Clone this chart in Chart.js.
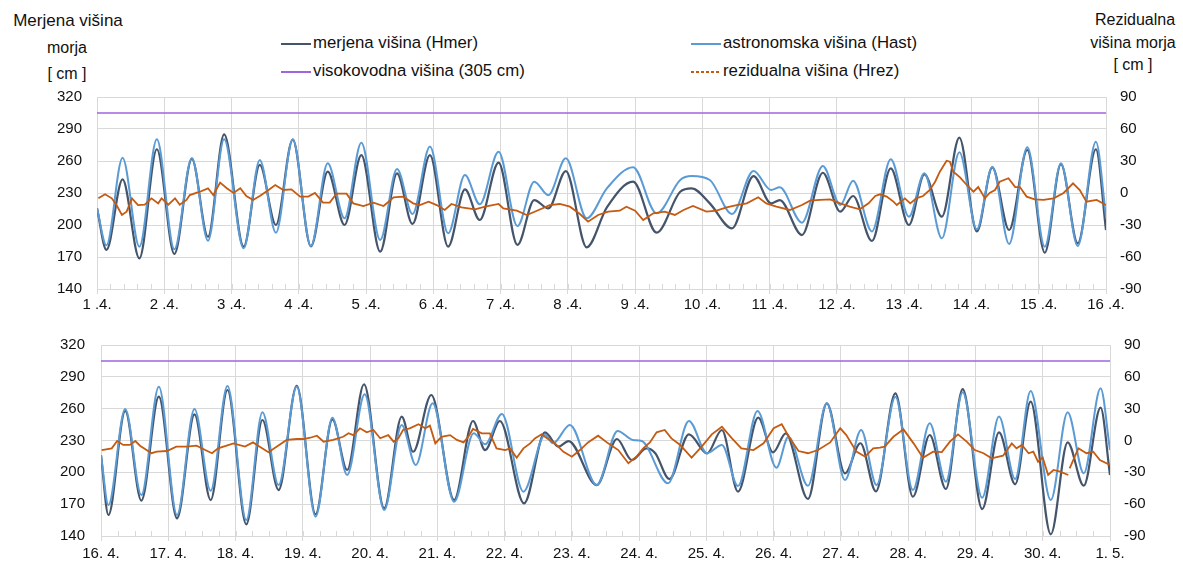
<!DOCTYPE html>
<html>
<head>
<meta charset="utf-8">
<script src="https://cdn.jsdelivr.net/npm/chart.js@4/dist/chart.umd.min.js"></script>
<style>
  body { margin: 0; background: #fff; width: 1183px; height: 563px; overflow: hidden; position: relative;
         font-family: "Liberation Sans", Arial, sans-serif; color: #111; }
  .t { position: absolute; font-size: 16px; line-height: 20px; white-space: nowrap; }
  .c { text-align: center; }
  .leg { position: absolute; font-size: 16.8px; line-height: 20px; white-space: nowrap; }
  .leg svg { vertical-align: middle; margin-right: 2px; }
  canvas { position: absolute; left: 0; }
</style>
</head>
<body>
<div class="t c" style="left:0;width:136px;top:11px;font-size:17px">Merjena višina</div>
<div class="t c" style="left:0;width:134px;top:38px">morja</div>
<div class="t c" style="left:0;width:134px;top:64px">[ cm ]</div>
<div class="t c" style="left:1080px;width:110px;top:10px">Rezidualna</div>
<div class="t c" style="left:1078px;width:110px;top:33px">višina morja</div>
<div class="t c" style="left:1078px;width:110px;top:55px">[ cm ]</div>

<div class="leg" style="left:281px;top:33px"><svg width="30" height="4"><line x1="0" y1="2" x2="30" y2="2" stroke="#44546a" stroke-width="2"/></svg>merjena višina (Hmer)</div>
<div class="leg" style="left:691px;top:33px"><svg width="30" height="4"><line x1="0" y1="2" x2="30" y2="2" stroke="#5b9bd5" stroke-width="2"/></svg>astronomska višina (Hast)</div>
<div class="leg" style="left:281px;top:61px"><svg width="30" height="4"><line x1="0" y1="2" x2="30" y2="2" stroke="#a064e0" stroke-width="2"/></svg>visokovodna višina (305 cm)</div>
<div class="leg" style="left:691px;top:61px"><svg width="30" height="4"><line x1="0" y1="2" x2="30" y2="2" stroke="#c55a11" stroke-width="2" stroke-dasharray="3,2"/></svg>rezidualna višina (Hrez)</div>

<canvas id="top" style="top:88px" width="1183" height="232"></canvas>
<canvas id="bot" style="top:336px" width="1183" height="227"></canvas>

<script>
// 1.4. - 16.4. (x = day of April)
const topDays = [1.00,1.14,1.38,1.63,1.89,2.15,2.41,2.65,2.89,3.18,3.42,3.66,3.91,4.18,4.43,4.68,4.93,5.21,5.46,5.69,5.95,6.22,6.47,6.69,6.97,7.25,7.50,7.71,7.97,8.28,8.58,8.97,9.32,9.67,9.84,10.11,10.44,10.76,11.02,11.15,11.48,11.79,12.05,12.24,12.52,12.80,13.07,13.30,13.56,13.82,14.08,14.31,14.56,14.83,15.09,15.33,15.58,15.85,16.00];
const hastTop = [215.6,181,263,179.7,280.3,177.2,262.8,185.3,280.3,178.1,261,192.8,280.3,180.3,257.8,206.3,277.2,186,252.5,210.3,273.5,192.2,246.9,219.4,268.7,199,240.6,228,262.5,206.3,234.4,254.1,210.9,242.2,245.9,242.2,210.3,250.6,232.8,235.3,202.2,255.3,218.8,241.5,194,261.6,207.8,248.4,187.5,268.1,196,254.7,182.2,272.8,179.7,257.8,180.3,278.1,207.8];
const hmerTop = [215.6,176.6,242.8,168.8,271,172.8,262,189,285,179.7,256.3,200,280,180,250,200,265.6,175,248.4,201,265.6,179.7,233.4,204.7,258.5,181.3,223.4,215.6,250.6,179.1,216.6,240.6,192.8,231.2,234.4,220.3,196.9,245.9,220.3,223.4,190.6,249,212.5,227.2,185,253.1,200,247.5,207.8,281.9,194,254,195.3,270.3,174,257,182.8,271,195.3];

const rezTopDays = [1.02,1.12,1.22,1.29,1.37,1.44,1.52,1.61,1.71,1.81,1.91,1.96,2.06,2.16,2.23,2.33,2.38,2.53,2.65,2.73,2.83,2.93,3.03,3.13,3.22,3.32,3.42,3.55,3.65,3.77,3.89,4.02,4.14,4.24,4.36,4.46,4.56,4.71,4.81,4.96,5.11,5.26,5.41,5.55,5.70,5.80,5.93,6.05,6.17,6.27,6.42,6.62,6.77,6.97,7.04,7.24,7.39,7.54,7.73,7.88,8.03,8.18,8.30,8.45,8.60,8.77,8.87,9.00,9.12,9.27,9.44,9.59,9.72,9.86,10.06,10.21,10.36,10.51,10.66,10.83,10.95,11.10,11.30,11.48,11.60,11.75,11.90,12.05,12.19,12.34,12.47,12.57,12.64,12.74,12.84,12.89,13.01,13.09,13.18,13.28,13.38,13.46,13.53,13.63,13.68,13.73,13.83,13.93,14.03,14.10,14.20,14.27,14.35,14.42,14.55,14.65,14.72,14.82,14.94,15.07,15.22,15.37,15.51,15.61,15.71,15.86,16.00];
const rezTop = [-5,-1.2,-5,-11.3,-20.6,-17.5,-5,-11.3,-11,-5,-9.7,-5,-11,-5,-11,-6.5,-1.9,1.2,4.4,-1.9,9.7,4.4,0,4.4,-2.8,-6.5,-2.8,2.8,7.5,2.8,3.4,-3.4,-3.4,0,-9,-9,-0.6,-0.6,-9.7,-12.2,-9,-12.2,-4,-3.4,-9.7,-11.3,-8.1,-11.3,-15.9,-10.3,-13.4,-15.3,-12.8,-10.3,-14.4,-16.6,-20.6,-16.6,-11.3,-10.3,-12.8,-19.7,-26.9,-20.6,-17.5,-16.6,-12.8,-16.6,-25.3,-19,-17.5,-20.6,-15.9,-12.2,-17.5,-16.6,-13.4,-11.3,-9.7,-4,-9.7,-12.8,-15.9,-11.3,-7.2,-6.5,-5.9,-9.7,-12.8,-15.3,-9.7,-2.8,-1.2,-3.4,-8.1,-11.3,-5,-9.7,-5,-2.8,2.8,10.6,20,30.3,29.4,20,14.7,7.5,1.2,5.6,-5,0,2.8,10.6,13.8,5.6,5.6,-3.4,-5.9,-6.5,-5,0,9.1,2.8,-8.1,-6.5,-11.3];

// 16.4. - 1.5. (x = day of April, 31 = 1.5.)
const hastBotDays = [16.00,16.11,16.36,16.60,16.86,17.13,17.39,17.63,17.88,18.16,18.40,18.64,18.91,19.19,19.44,19.66,19.92,20.21,20.47,20.68,20.93,21.25,21.54,21.71,21.96,22.28,22.60,22.72,22.97,23.37,23.68,23.91,24.04,24.43,24.74,25.01,25.23,25.47,25.76,26.04,26.22,26.51,26.79,27.06,27.30,27.53,27.81,28.07,28.32,28.56,28.81,29.10,29.35,29.59,29.82,30.12,30.37,30.61,30.86,31.00];
const hastBot = [216.3,169.2,259.7,178.6,280.7,159.8,259.7,182.7,281.4,155,256.6,188,280.7,158.2,251.5,197.5,273.5,164.5,244.6,206.9,265,172.3,236.8,226.4,255,181.8,235.2,227.4,244.6,188,239,230.5,229.5,189.7,248.4,218,225.8,187.1,257.8,204.4,233.6,187.4,265,192.8,239.9,188,271.3,183.3,246.2,191.2,275.4,176.1,252.5,193.7,276.6,173.9,256.6,199.1,279.2,221];
const hmerBotDays = [16.00,16.11,16.36,16.60,16.86,17.13,17.39,17.63,17.88,18.16,18.40,18.64,18.91,19.19,19.44,19.66,19.91,20.21,20.47,20.64,20.91,21.25,21.53,21.71,21.93,22.29,22.60,22.80,22.95,23.37,23.67,23.89,24.11,24.24,24.45,24.74,25.01,25.23,25.47,25.77,25.99,26.18,26.51,26.79,27.06,27.29,27.52,27.81,28.07,28.32,28.56,28.81,29.10,29.35,29.59,29.82,30.12,30.37,30.61,30.86,31.00];
const hmerBot = [216.3,159.8,257.8,173.3,271.3,156.7,254.7,173.9,277.6,151,249.3,183.3,281.6,160.5,250,202.2,283,166.1,252.5,219.4,272.9,173.9,248.4,221,248.4,170.8,237.7,224.2,229.5,188,231.4,211.6,222.6,218,193.7,235.8,217.9,239.9,181.8,251.5,218.8,236.8,174.9,265,199.1,227.4,182,274.5,177,235.2,184.3,278.5,165.4,237.7,188.7,266.6,141.6,228.3,187.4,260.9,197.5];

const rezBotDays = [16.01,16.16,16.24,16.33,16.43,16.51,16.58,16.70,16.75,16.83,16.98,17.12,17.27,17.42,17.55,17.65,17.74,17.97,18.14,18.26,18.36,18.49,18.61,18.76,18.91,19.01,19.11,19.21,19.31,19.45,19.60,19.68,19.75,19.85,19.95,20.05,20.15,20.27,20.35,20.42,20.49,20.59,20.72,20.82,20.89,20.97,21.06,21.19,21.29,21.39,21.46,21.53,21.66,21.78,21.88,22.01,22.08,22.18,22.28,22.38,22.45,22.55,22.63,22.75,22.87,23.00,23.12,23.24,23.39,23.54,23.69,23.84,23.96,24.06,24.16,24.26,24.38,24.48,24.61,24.78,24.93,25.08,25.23,25.38,25.52,25.70,25.85,26.00,26.12,26.24,26.37,26.51,26.66,26.84,26.99,27.08,27.23,27.36,27.48,27.58,27.65,27.78,27.93,28.08,28.22,28.37,28.50,28.62,28.74,28.87,28.99,29.12,29.24,29.41,29.54,29.61,29.69,29.79,29.86,29.93,30.00,30.08,30.16,30.26,30.38,30.39,30.40,30.53,30.65,30.75,30.85,31.00];
const rezBot = [-9,-7.4,-0.5,-4.2,-4.2,-0.5,-4.9,-9.9,-12,-10.5,-9.9,-5.8,-5.8,-4.9,-9,-12,-7.4,-2.7,-5.8,-1.8,-5.8,-11,-5.8,0.5,1.4,1.4,2.6,4.5,-1.1,0.5,3.5,6.8,5.1,11.5,7.7,9.9,2.1,5.1,-1.1,2,9.9,11.5,15.3,11.5,14,-2.7,3.5,5.1,0.5,-1.8,3.5,10.9,6.8,6.8,-7.4,-9,-7.4,-16.2,-7.4,-2.7,2,5.8,2,-2.7,-10.5,-15.3,-9,-1.8,4.5,-2.7,-9,-21.5,-15.3,-7.4,-1.8,7.7,9.9,2,-4.2,-16.2,-5.8,5.8,13,2,-7.4,-9,-2.7,11.5,15.3,2,-9.9,-12,-9,-1.8,11.5,5.1,-10.5,-15.3,-7.4,-6.8,-5.8,3.5,10.5,-2.7,-16.2,-10.5,-11,-1.1,5.8,-1.1,-9,-12,-16.8,-14.3,-2.7,-7.4,-4.2,-12,-10.5,-20,-16.2,-32.5,-27.8,-29.4,-32.5,null,-26.3,-7.4,-12,-10.5,-18.4,-23.1];

const floodLevel = 305;
const leftMin = 140, leftMax = 320, rightMin = -90, rightMax = 90, tickStep = 30;

function pts(xs, ys) {
    return xs.map((x, i) => ({ x: x, y: ys[i] }));
}

const GRID = '#d9d9d9';
const FONT = { family: "'Liberation Sans', Arial, sans-serif", size: 15 };

// small inside ticks between the day gridlines
const minorTicks = {
    id: 'minorTicks',
    afterDraw(chart, args, opts) {
        const xs = chart.scales.x;
        const ctx = chart.ctx;
        const yb = chart.chartArea.bottom;
        const n = Math.round((xs.max - xs.min) / opts.step);
        ctx.save();
        ctx.strokeStyle = GRID;
        ctx.lineWidth = 1;
        for (let i = 0; i <= n; i++) {
            const px = Math.round(xs.getPixelForValue(xs.min + i * opts.step)) + 0.5;
            ctx.beginPath();
            ctx.moveTo(px, yb);
            ctx.lineTo(px, yb - 5);
            ctx.stroke();
        }
        ctx.restore();
    }
};

function makeChart(id, s) {
    const ctx = document.getElementById(id).getContext('2d');
    return new Chart(ctx, {
        type: 'line',
        data: {
            datasets: [
                {
                    label: 'rezidualna višina (Hrez)',
                    data: pts(s.rezDays, s.rez),
                    yAxisID: 'y2',
                    borderColor: '#c55a11',
                    borderWidth: 1.8,
                    tension: 0,
                    spanGaps: false,
                    order: 0
                },
                {
                    label: 'astronomska višina (Hast)',
                    data: pts(s.hastDays, s.hast),
                    yAxisID: 'y',
                    borderColor: '#5b9bd5',
                    borderWidth: 2,
                    cubicInterpolationMode: 'monotone',
                    order: 1
                },
                {
                    label: 'merjena višina (Hmer)',
                    data: pts(s.hmerDays, s.hmer),
                    yAxisID: 'y',
                    borderColor: '#44546a',
                    borderWidth: 2.2,
                    cubicInterpolationMode: 'monotone',
                    order: 2
                },
                {
                    label: 'visokovodna višina (305 cm)',
                    data: [{ x: s.xmin, y: floodLevel }, { x: s.xmax, y: floodLevel }],
                    yAxisID: 'y',
                    borderColor: '#a064e0',
                    borderWidth: 1.5,
                    order: 3
                }
            ]
        },
        options: {
            responsive: false,
            maintainAspectRatio: false,
            animation: false,
            elements: { point: { radius: 0 } },
            layout: { padding: 0 },
            plugins: {
                legend: { display: false },
                tooltip: { enabled: false },
                minorTicks: { step: s.minor }
            },
            scales: {
                x: {
                    type: 'linear',
                    min: s.xmin,
                    max: s.xmax,
                    afterFit: (sc) => { sc.height = s.xh; },
                    grid: { color: GRID, tickColor: GRID, tickLength: 5 },
                    border: { color: GRID },
                    ticks: {
                        stepSize: 1,
                        autoSkip: false,
                        maxRotation: 0,
                        padding: s.xpad,
                        color: '#111',
                        font: FONT,
                        callback: s.label
                    }
                },
                y: {
                    position: 'left',
                    min: leftMin,
                    max: leftMax,
                    afterFit: (sc) => { sc.width = s.lw; },
                    grid: { color: GRID, drawTicks: false },
                    border: { color: GRID },
                    ticks: { stepSize: tickStep, padding: s.lpad, color: '#111', font: FONT }
                },
                y2: {
                    position: 'right',
                    min: rightMin,
                    max: rightMax,
                    afterFit: (sc) => { sc.width = s.rw; },
                    grid: { display: false, drawTicks: false },
                    border: { display: false },
                    ticks: { stepSize: tickStep, padding: 14, color: '#111', font: FONT }
                }
            }
        },
        plugins: [minorTicks]
    });
}

// put the plot area at the wanted page position (top / bottom pixel rows)
function placeArea(chart, wantTop, wantBottom) {
    const above = chart.chartArea.top;
    const below = chart.height - chart.chartArea.bottom;
    chart.resize(1183, (wantBottom - wantTop) + above + below);
    chart.canvas.style.top = (wantTop - chart.chartArea.top) + 'px';
}

const topChart = makeChart('top', {
    hastDays: topDays, hast: hastTop, hmerDays: topDays, hmer: hmerTop,
    rezDays: rezTopDays, rez: rezTop,
    xmin: 1, xmax: 16, minor: 0.2,
    label: (v) => v + ' .4.',
    xh: 31, xpad: 2, lw: 97, rw: 77, lpad: 15
});
placeArea(topChart, 97, 289);

const botChart = makeChart('bot', {
    hastDays: hastBotDays, hast: hastBot, hmerDays: hmerBotDays, hmer: hmerBot,
    rezDays: rezBotDays, rez: rezBot,
    xmin: 16, xmax: 31, minor: 0.25,
    label: (v) => v <= 30 ? v + '. 4.' : (v - 30) + '. 5.',
    xh: 27, xpad: 4, lw: 101, rw: 73, lpad: 16
});
placeArea(botChart, 345, 536);
</script>
</body>
</html>
